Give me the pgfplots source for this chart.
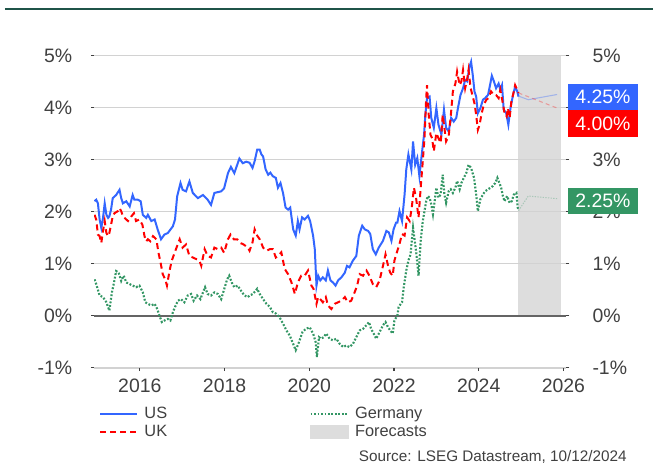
\documentclass[border=0pt]{standalone}
\usepackage{fontspec}
\setmainfont{Liberation Sans}
\usepackage{pgfplots}
\pgfplotsset{compat=1.18}

\definecolor{usblue}{RGB}{51,102,255}
\definecolor{ukred}{RGB}{255,0,0}
\definecolor{degreen}{RGB}{51,150,100}
\definecolor{fcgrey}{RGB}{221,221,221}
\definecolor{gridgrey}{RGB}{210,210,210}
\definecolor{zerogrey}{RGB}{100,100,100}
\definecolor{textgrey}{RGB}{64,64,64}
\definecolor{topline}{RGB}{31,84,72}

\newcommand{\tickfont}{\fontsize{14.6}{16}\selectfont}
\newcommand{\legfont}{\fontsize{12.3}{14}\selectfont}
\newcommand{\srcfont}{\fontsize{11.5}{13}\selectfont}

\pgfplotsset{
  base/.style={
    scale only axis, width=354.5pt, height=234.75pt,
    at={(70.7pt,71.6pt)}, anchor=south west,
    xmin=2014.92, xmax=2026.06, ymin=-1, ymax=5,
    ytick={-1,0,...,5},
    axis line style={draw=none},
    tick align=outside,
    major tick length=2.5pt,
    tick style={textgrey, line width=0.8pt},
    tick label style={font=\tickfont, text=textgrey, inner sep=0pt},
  },
}

\begin{document}
\begin{tikzpicture}
\path (0,0) rectangle (490.5pt,348pt);
\draw[topline, line width=1.7pt] (3.75pt,341.25pt) -- (490.5pt,341.25pt);

\begin{axis}[
  base,
  set layers,
  xtick={2016,2018,...,2026},
  xticklabels={2016,2018,2020,2022,2024,2026},
  yticklabels={-1\%,0\%,1\%,2\%,3\%,4\%,5\%},
  xtick pos=bottom, ytick pos=left,
  ymajorgrids,
  grid style={gridgrey, line width=1pt},
  yticklabel style={anchor=east, xshift=-13.7pt},
  xticklabel style={anchor=north, yshift=-5.25pt},
  legend columns=2,
  legend cell align=left,
  legend image code/.code={\draw[#1] (0pt,0pt) -- (28pt,0pt);},
  legend style={
    at={(axis description cs:0.01,-0.125)}, anchor=north west,
    draw=none, fill=none, inner sep=0pt,
    font=\legfont, text=textgrey,
    row sep=3.6pt,
    nodes={inner xsep=0pt, inner ysep=0pt},
    /tikz/every odd column/.append style={column sep=4.5pt},
    /tikz/every even column/.append style={column sep=107pt},
  },
]

% forecast period
\addplot[fill=fcgrey, draw=none, on layer=axis background, forget plot]
  coordinates {(2024.93,5) (2025.95,5)} \closedcycle;

% zero line
\addplot[zerogrey, line width=1.1pt, forget plot]
  coordinates {(2014.92,0) (2026.06,0)};

% forecasts
\addplot[usblue, opacity=0.35, line width=0.8pt, forget plot]
  coordinates {(2024.94,4.22) (2025.17,4.15) (2025.85,4.25)};
\addplot[ukred, opacity=0.3, line width=0.8pt, dash pattern=on 3pt off 2.5pt, forget plot]
  coordinates {(2024.94,4.28) (2025.85,3.99)};
\addplot[degreen, opacity=0.3, line width=0.8pt, dash pattern=on 1pt off 1pt, forget plot]
  coordinates {(2024.94,2.02) (2025.17,2.30) (2025.85,2.25)};

% US 10y
\addplot[usblue, line width=1.5pt, forget plot] coordinates {
(2014.93,2.20) (2014.97,2.23) (2015.01,2.16) (2015.05,1.85) (2015.09,1.69)
(2015.13,1.88) (2015.17,2.16) (2015.21,1.94) (2015.25,1.88) (2015.28,1.91)
(2015.32,2.04) (2015.36,2.26) (2015.44,2.32) (2015.52,2.42) (2015.56,2.26)
(2015.60,2.16) (2015.68,2.20) (2015.76,2.10) (2015.83,2.32) (2015.87,2.23)
(2015.95,2.23) (2016.02,2.20) (2016.07,1.94) (2016.15,1.88) (2016.19,1.94)
(2016.27,1.82) (2016.35,1.85) (2016.42,1.66) (2016.50,1.47) (2016.58,1.56)
(2016.66,1.59) (2016.78,1.72) (2016.83,1.85) (2016.88,2.29) (2016.96,2.55)
(2017.01,2.42) (2017.09,2.39) (2017.17,2.58) (2017.25,2.36) (2017.37,2.26)
(2017.49,2.32) (2017.60,2.23) (2017.68,2.13) (2017.76,2.36) (2017.92,2.39)
(2017.99,2.45) (2018.08,2.74) (2018.15,2.86) (2018.23,2.74) (2018.35,3.02)
(2018.43,2.93) (2018.51,2.96) (2018.59,2.94) (2018.66,2.84) (2018.71,2.97)
(2018.77,3.19) (2018.83,3.19) (2018.87,3.10) (2018.91,3.06) (2018.97,2.81)
(2019.03,2.71) (2019.08,2.75) (2019.14,2.68) (2019.21,2.65) (2019.26,2.46)
(2019.32,2.55) (2019.38,2.36) (2019.44,2.08) (2019.50,2.04) (2019.55,2.08)
(2019.62,1.66) (2019.68,1.54) (2019.73,1.82) (2019.77,1.66) (2019.83,1.89)
(2019.89,1.85) (2019.97,1.92) (2020.02,1.82) (2020.09,1.54) (2020.13,1.28)
(2020.17,0.58) (2020.21,0.77) (2020.26,0.68) (2020.32,0.74) (2020.39,0.68)
(2020.44,0.87) (2020.50,0.68) (2020.56,0.64) (2020.62,0.58) (2020.68,0.68)
(2020.76,0.74) (2020.84,0.83) (2020.89,0.96) (2020.95,0.93) (2021.03,1.06)
(2021.11,1.15) (2021.17,1.54) (2021.25,1.73) (2021.31,1.66) (2021.39,1.63)
(2021.44,1.57) (2021.50,1.28) (2021.57,1.18) (2021.64,1.31) (2021.74,1.44)
(2021.82,1.63) (2021.88,1.60) (2021.94,1.44) (2021.99,1.66) (2022.05,1.79)
(2022.08,1.79) (2022.13,2.01) (2022.19,1.82) (2022.25,2.33) (2022.29,2.81)
(2022.34,3.10) (2022.41,2.81) (2022.45,3.35) (2022.50,2.90) (2022.55,3.03)
(2022.60,2.68) (2022.66,3.13) (2022.71,3.48) (2022.74,3.86) (2022.78,4.18)
(2022.84,4.21) (2022.88,3.80) (2022.94,3.61) (2023.00,3.99) (2023.05,3.67)
(2023.12,3.48) (2023.18,3.96) (2023.23,3.61) (2023.29,3.54) (2023.35,3.80)
(2023.41,3.73) (2023.47,3.80) (2023.51,3.99) (2023.57,4.24) (2023.63,4.37)
(2023.68,4.53) (2023.73,4.50) (2023.78,4.78) (2023.82,4.88) (2023.86,4.62)
(2023.90,4.31) (2023.94,4.21) (2023.98,3.89) (2024.04,3.99) (2024.10,4.15)
(2024.15,4.18) (2024.22,4.24) (2024.26,4.40) (2024.31,4.61) (2024.36,4.50)
(2024.41,4.37) (2024.47,4.46) (2024.51,4.34) (2024.55,4.43) (2024.59,3.96)
(2024.65,3.89) (2024.70,3.67) (2024.75,3.99) (2024.81,4.24) (2024.86,4.40)
(2024.91,4.31) (2024.94,4.21)
};

% UK 10y
\addplot[ukred, line width=1.5pt, dash pattern=on 4.5pt off 3pt, forget plot] coordinates {
(2014.93,1.94) (2014.97,1.85) (2015.01,1.56) (2015.05,1.53) (2015.09,1.40)
(2015.13,1.63) (2015.17,1.82) (2015.21,1.59) (2015.25,1.53) (2015.28,1.59)
(2015.32,1.75) (2015.36,1.91) (2015.40,1.97) (2015.48,2.01) (2015.52,2.07)
(2015.56,2.01) (2015.60,1.91) (2015.64,1.88) (2015.68,1.85) (2015.72,1.82)
(2015.80,1.91) (2015.86,1.97) (2015.91,1.82) (2015.99,1.85) (2016.06,1.75)
(2016.11,1.53) (2016.15,1.43) (2016.19,1.47) (2016.25,1.43) (2016.31,1.53)
(2016.39,1.47) (2016.44,1.21) (2016.49,1.02) (2016.54,0.80) (2016.60,0.70)
(2016.64,0.58) (2016.70,0.86) (2016.75,1.05) (2016.82,1.21) (2016.88,1.34)
(2016.94,1.47) (2017.01,1.31) (2017.09,1.37) (2017.17,1.15) (2017.25,1.12)
(2017.33,1.09) (2017.41,1.05) (2017.45,0.96) (2017.53,1.28) (2017.60,1.15)
(2017.68,1.12) (2017.76,1.31) (2017.84,1.28) (2017.92,1.31) (2017.99,1.21)
(2018.08,1.47) (2018.14,1.56) (2018.22,1.47) (2018.30,1.47) (2018.37,1.40)
(2018.45,1.37) (2018.55,1.31) (2018.59,1.25) (2018.66,1.41) (2018.71,1.66)
(2018.77,1.54) (2018.83,1.47) (2018.91,1.31) (2018.99,1.25) (2019.07,1.28)
(2019.14,1.28) (2019.21,1.12) (2019.26,1.15) (2019.34,1.22) (2019.42,0.90)
(2019.50,0.80) (2019.58,0.64) (2019.66,0.42) (2019.73,0.64) (2019.81,0.77)
(2019.89,0.77) (2019.97,0.87) (2020.05,0.58) (2020.10,0.52) (2020.17,0.23)
(2020.21,0.36) (2020.26,0.32) (2020.32,0.26) (2020.39,0.36) (2020.44,0.20)
(2020.52,0.13) (2020.60,0.23) (2020.68,0.26) (2020.76,0.29) (2020.84,0.36)
(2020.91,0.26) (2020.99,0.29) (2021.07,0.45) (2021.13,0.58) (2021.19,0.80)
(2021.27,0.77) (2021.35,0.87) (2021.42,0.77) (2021.50,0.61) (2021.58,0.55)
(2021.66,0.68) (2021.74,0.96) (2021.80,1.18) (2021.86,0.96) (2021.91,0.83)
(2021.97,0.77) (2022.01,1.06) (2022.08,1.25) (2022.13,1.38) (2022.19,1.57)
(2022.25,1.54) (2022.31,1.89) (2022.37,1.82) (2022.42,2.08) (2022.47,2.46)
(2022.52,2.27) (2022.58,1.89) (2022.63,2.46) (2022.68,2.97) (2022.72,3.41)
(2022.76,4.18) (2022.78,4.43) (2022.82,3.86) (2022.86,3.48) (2022.90,3.41)
(2022.94,3.16) (2023.00,3.51) (2023.05,3.41) (2023.10,3.32) (2023.15,3.86)
(2023.19,3.61) (2023.23,3.35) (2023.29,3.45) (2023.34,3.83) (2023.39,4.31)
(2023.45,4.46) (2023.49,4.69) (2023.55,4.43) (2023.59,4.50) (2023.63,4.72)
(2023.68,4.37) (2023.73,4.56) (2023.76,4.72) (2023.81,4.37) (2023.86,4.21)
(2023.90,4.08) (2023.94,3.86) (2023.98,3.57) (2024.02,3.67) (2024.07,3.89)
(2024.12,4.05) (2024.18,4.15) (2024.23,4.18) (2024.29,4.31) (2024.36,4.24)
(2024.41,4.24) (2024.47,4.18) (2024.51,4.34) (2024.57,4.08) (2024.61,3.89)
(2024.66,3.83) (2024.69,3.99) (2024.73,3.80) (2024.77,4.11) (2024.81,4.24)
(2024.86,4.43) (2024.91,4.34) (2024.94,4.28)
};

% Germany 10y
\addplot[degreen, line width=1.6pt, dash pattern=on 1.4pt off 1.3pt, forget plot] coordinates {
(2014.93,0.70) (2014.97,0.61) (2015.05,0.39) (2015.13,0.36) (2015.21,0.26)
(2015.28,0.10) (2015.34,0.45) (2015.39,0.64) (2015.44,0.86) (2015.50,0.83)
(2015.56,0.67) (2015.62,0.77) (2015.68,0.64) (2015.76,0.61) (2015.83,0.58)
(2015.91,0.55) (2015.99,0.58) (2016.07,0.45) (2016.13,0.26) (2016.19,0.23)
(2016.27,0.20) (2016.35,0.23) (2016.41,0.13) (2016.46,0.01) (2016.52,-0.12)
(2016.58,-0.09) (2016.66,-0.06) (2016.72,-0.09) (2016.78,0.07) (2016.83,0.17)
(2016.90,0.29) (2016.97,0.32) (2017.05,0.26) (2017.13,0.39) (2017.21,0.42)
(2017.27,0.29) (2017.35,0.39) (2017.43,0.32) (2017.49,0.45) (2017.54,0.55)
(2017.60,0.42) (2017.68,0.39) (2017.76,0.45) (2017.84,0.42) (2017.92,0.32)
(2017.99,0.51) (2018.06,0.70) (2018.11,0.77) (2018.17,0.64) (2018.23,0.55)
(2018.31,0.58) (2018.39,0.48) (2018.47,0.39) (2018.55,0.36) (2018.59,0.39)
(2018.67,0.42) (2018.77,0.52) (2018.83,0.42) (2018.91,0.32) (2018.99,0.23)
(2019.07,0.17) (2019.14,0.07) (2019.22,0.04) (2019.30,-0.03) (2019.38,-0.15)
(2019.46,-0.28) (2019.54,-0.38) (2019.62,-0.54) (2019.68,-0.66) (2019.76,-0.50)
(2019.84,-0.31) (2019.92,-0.25) (2020.01,-0.22) (2020.09,-0.34) (2020.15,-0.50)
(2020.18,-0.79) (2020.23,-0.41) (2020.28,-0.44) (2020.34,-0.41) (2020.40,-0.34)
(2020.48,-0.44) (2020.56,-0.47) (2020.64,-0.44) (2020.72,-0.54) (2020.80,-0.60)
(2020.87,-0.57) (2020.95,-0.60) (2021.03,-0.54) (2021.11,-0.41) (2021.19,-0.28)
(2021.27,-0.25) (2021.35,-0.18) (2021.41,-0.12) (2021.46,-0.25) (2021.52,-0.34)
(2021.58,-0.44) (2021.66,-0.31) (2021.74,-0.18) (2021.80,-0.12) (2021.86,-0.22)
(2021.91,-0.28) (2021.97,-0.34) (2022.01,-0.09) (2022.08,0.01) (2022.11,0.17)
(2022.16,0.23) (2022.19,0.26) (2022.23,0.55) (2022.29,0.87) (2022.34,1.06)
(2022.39,1.18) (2022.45,1.69) (2022.49,1.44) (2022.53,1.18) (2022.58,0.77)
(2022.63,1.44) (2022.68,1.82) (2022.72,2.01) (2022.76,2.20) (2022.80,2.30)
(2022.84,2.27) (2022.88,2.14) (2022.92,1.95) (2022.96,2.20) (2023.00,2.46)
(2023.05,2.27) (2023.10,2.33) (2023.15,2.71) (2023.19,2.33) (2023.23,2.17)
(2023.29,2.39) (2023.34,2.43) (2023.39,2.36) (2023.45,2.46) (2023.49,2.59)
(2023.55,2.43) (2023.59,2.55) (2023.65,2.65) (2023.71,2.75) (2023.76,2.90)
(2023.82,2.84) (2023.89,2.65) (2023.94,2.33) (2023.98,2.01) (2024.04,2.24)
(2024.10,2.33) (2024.15,2.39) (2024.22,2.43) (2024.28,2.46) (2024.33,2.49)
(2024.39,2.55) (2024.44,2.65) (2024.49,2.55) (2024.53,2.46) (2024.57,2.30)
(2024.61,2.20) (2024.67,2.30) (2024.73,2.17) (2024.78,2.20) (2024.83,2.33)
(2024.89,2.36) (2024.92,2.08) (2024.94,2.04)
};

\addlegendimage{usblue, line width=1.6pt}
\addlegendimage{degreen, line width=1.6pt, dash pattern=on 1.3pt off 1.3pt}
\addlegendimage{ukred, line width=1.6pt, dash pattern=on 4.5pt off 3pt}
\addlegendimage{legend image code/.code={\fill[fcgrey] (0pt,-4.9pt) rectangle (28pt,4.9pt);}}
\legend{US,Germany,UK,Forecasts}
\end{axis}

% right-hand scale (the 4% label sits under the end-value boxes)
\begin{axis}[
  base,
  xtick=\empty,
  yticklabels={-1\%,0\%,1\%,2\%,3\%,{},5\%},
  ytick pos=right, yticklabel pos=right,
  yticklabel style={anchor=west, xshift=17.25pt},
]
\addplot[draw=none] coordinates {(2015,0) (2025,1)};
\end{axis}

% forecast end values
\tikzset{endbox/.style={text=white, minimum width=52.5pt, minimum height=19.9pt,
  inner sep=0pt, font=\tickfont}}
\node[endbox, fill=usblue] at (453pt,275.25pt) {4.25\%};
\node[endbox, fill=ukred] at (453pt,255.35pt) {4.00\%};
\node[endbox, fill=degreen] at (453pt,196.9pt) {2.25\%};

\node[anchor=east, font=\srcfont, text=textgrey, inner sep=0pt] at (471pt,4.6pt)
  {Source: LSEG Datastream, 10/12/2024};
\end{tikzpicture}
\end{document}
